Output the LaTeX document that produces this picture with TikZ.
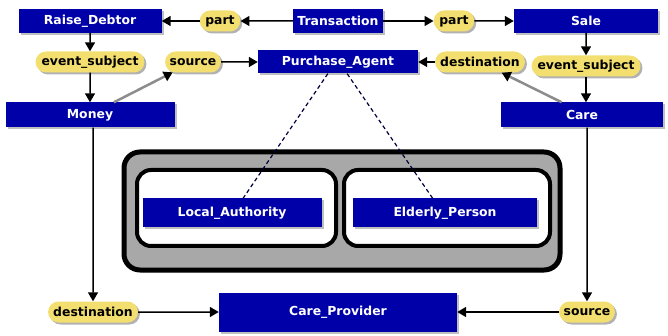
\documentclass[tikz,border=0pt]{standalone}
\usepackage{fontspec}
\newfontfamily\dejavu{DejaVu Sans}
\usetikzlibrary{positioning, arrows.meta, shapes.misc, shadows}

\definecolor{navy}{RGB}{0,0,168}
\definecolor{ochre}{RGB}{243,222,112}
\definecolor{panel}{RGB}{168,168,168}

\begin{document}
\begin{tikzpicture}[x=1pt, y=-1pt, on grid, auto,
    font=\dejavu\bfseries\fontsize{12.4}{14}\selectfont,
    >={Triangle[length=9pt, width=10pt]},
    thing/.style={rectangle, fill=navy, text=white, inner sep=0pt, minimum height=24pt,
      drop shadow={shadow xshift=2pt, shadow yshift=-2pt, fill=black!25, opacity=1}},
    role/.style={rounded rectangle, fill=ochre, inner xsep=4pt, inner ysep=0pt, minimum height=21pt,
      drop shadow={shadow xshift=2pt, shadow yshift=-2pt, fill=black!30, opacity=1}},
    link/.style={->, line width=1.5pt},
    hint/.style={-{Triangle[length=9pt, width=10pt, color=black]}, line width=2.5pt, draw=black!45},
    tie/.style={dash pattern=on 4pt off 3pt, line width=1.2pt, draw=navy!35!black},
    frame/.style={rounded corners=16pt, line width=5pt, fill=panel,
      drop shadow={shadow xshift=2pt, shadow yshift=-2pt, fill=black!35, opacity=1}},
    pen/.style={rounded corners=14pt, line width=4pt, fill=white}]
    \useasboundingbox (0,0) rectangle (668,336);

    % the containers
    \draw[frame] (124,152) rectangle (560,270);
    \draw[pen] (137,170) rectangle (336,246);
    \draw[pen] (344,170) rectangle (550,246);

    % top row
    \node[thing, minimum width=143pt] (rd) at (90,21) {Raise\_Debtor};
    \node[role] (p1) [right=130pt of rd] {part};
    \node[thing, minimum width=90pt] (tr) [right=118pt of p1] {Transaction};
    \node[role] (p2) [right=116pt of tr] {part};
    \node[thing, minimum width=144pt] (sa) [right=132pt of p2] {Sale};

    % second row
    \node[role] (es1) [below=41pt of rd] {event\_subject};
    \node[role] (src1) [right=103pt of es1] {source};
    \node[thing, minimum width=160pt, minimum height=23pt] (pa) [below=41pt of tr] {Purchase\_Agent};
    \node[role] (ds1) [right=142pt of pa] {destination};
    \node[role] (es2) [below=45pt of sa] {event\_subject};

    \node[thing, minimum width=169pt, minimum height=25pt] (mo) [below=53pt of es1] {Money};
    \node[thing, minimum width=162pt, minimum height=25pt] (ca) [below left=49pt and 4pt of es2] {Care};

    % inside the containers
    \node[thing, minimum width=179pt, minimum height=29pt] (la) [below left=151pt and 106pt of pa] {Local\_Authority};
    \node[thing, minimum width=184pt, minimum height=29pt] (ep) [below right=151pt and 107pt of pa] {Elderly\_Person};

    % bottom row
    \node[thing, minimum width=238pt, minimum height=39pt] (cp) [below=250pt of pa] {Care\_Provider};
    \node[role] (ds2) [left=245pt of cp] {destination};
    \node[role] (sr2) [right=249pt of cp] {source};

    \draw[link] (tr) -- (p1);
    \draw[link] (p1) -- (rd);
    \draw[link] (tr) -- (p2);
    \draw[link] (p2) -- (sa);
    \draw[link] (rd) -- (es1);
    \draw[link] (es1) -- (mo);
    \draw[link] (sa) -- (es2);
    \draw[link] (es2.south) -- (ca.north -| es2);
    \draw[link] (src1) -- (pa);
    \draw[link] (ds1) -- (pa);
    \draw[hint] (mo.28) -- (src1);
    \draw[hint] (ca.148) -- (ds1);
    \draw[tie] (pa.229) -- (la.53);
    \draw[tie] (pa.308) -- (ep.130);
    \draw[link] (mo.south -| ds2) -- (ds2);
    \draw[link] (ca.south -| sr2) -- (sr2);
    \draw[link] (ds2) -- (cp);
    \draw[link] (sr2) -- (cp);
\end{tikzpicture}
\end{document}
